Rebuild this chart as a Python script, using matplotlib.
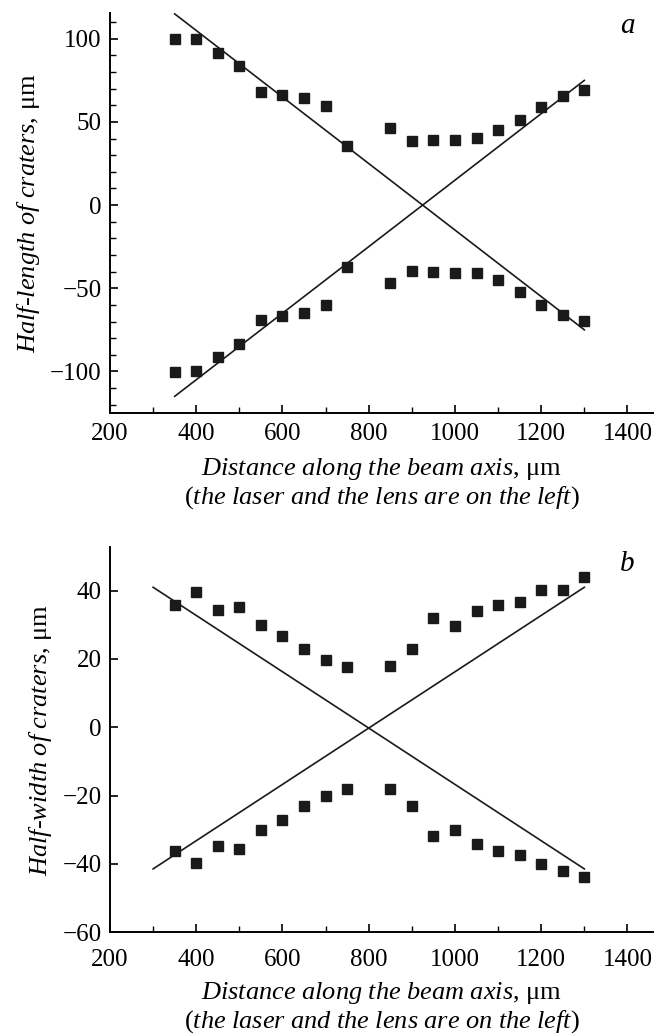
import matplotlib.pyplot as plt
from matplotlib.ticker import MultipleLocator

# ---- data ----
x_pts = [350, 400, 450, 500, 550, 600, 650, 700, 750,
         850, 900, 950, 1000, 1050, 1100, 1150, 1200, 1250, 1300]

len_upper = [100, 100, 91.4, 83.6, 67.8, 66.4, 64.6, 59.4, 35.6,
             46.6, 38.4, 39.4, 39.4, 40.4, 45.4, 51, 59.2, 65.4, 69]
len_lower = [-100.4, -100, -91.4, -83.6, -69.2, -66.6, -65, -60, -37,
             -47, -39.6, -40, -40.6, -41, -45, -52, -60, -66, -69.6]

wid_upper = [35.8, 39.6, 34.3, 35.3, 30, 26.8, 22.9, 19.8, 17.6,
             18, 23, 32, 29.7, 34, 35.7, 36.8, 40.1, 40.1, 43.9]
wid_lower = [-36.2, -39.7, -34.7, -35.7, -30.1, -27.1, -23.2, -20.2, -18.2,
             -18.2, -23.2, -32, -30.1, -34.2, -36.2, -37.3, -40, -42.2, -44]

# fitted straight lines (end points)
len_line_x = [350, 1300]
len_line_down = [115, -75]
len_line_up = [-115, 75]

wid_line_x = [300, 1300]
wid_line_down = [41, -41.5]
wid_line_up = [-41.5, 41]

plt.rcParams['font.family'] = ['Liberation Serif', 'DejaVu Serif']
plt.rcParams['mathtext.fontset'] = 'custom'
plt.rcParams['mathtext.rm'] = 'Liberation Serif'
plt.rcParams['mathtext.it'] = 'Liberation Serif:italic'
plt.rcParams['font.size'] = 18

fig = plt.figure(figsize=(6.61, 10.34), dpi=100)
ax_a = fig.add_axes([0.1664, 0.6006, 0.822, 0.3868])
ax_b = fig.add_axes([0.1664, 0.0986, 0.822, 0.3724])

xlabel = ('$\\mathit{Distance\\ along\\ the\\ beam\\ axis}$, μm\n'
          '($\\mathit{the\\ laser\\ and\\ the\\ lens\\ are\\ on\\ the\\ left}$)')

def style(ax, xpad, lpad):
    for s in ['top', 'right']:
        ax.spines[s].set_visible(False)
    for s in ['left', 'bottom']:
        ax.spines[s].set_linewidth(1.4)
    ax.set_xlim(200, 1460)
    ax.xaxis.set_major_locator(MultipleLocator(200))
    ax.xaxis.set_minor_locator(MultipleLocator(100))
    ax.tick_params(which='major', direction='in', length=6, width=1.2)
    ax.tick_params(which='minor', direction='in', length=4, width=1.0)
    ax.tick_params(axis='x', which='major', pad=xpad)
    ax.tick_params(axis='y', which='major', pad=6)
    ax.set_xlabel(xlabel, fontsize=19, linespacing=1.1, labelpad=lpad)

# ---- panel a ----
ax = ax_a
ax.plot(len_line_x, len_line_down, color='#1a1a1a', lw=1.2)
ax.plot(len_line_x, len_line_up, color='#1a1a1a', lw=1.2)
ax.plot(x_pts, len_upper, 's', color='#1a1a1a', ms=7)
ax.plot(x_pts, len_lower, 's', color='#1a1a1a', ms=7)
style(ax, 7, 8)
ax.set_ylim(-125, 115.5)
ax.yaxis.set_major_locator(MultipleLocator(50))
ax.yaxis.set_minor_locator(MultipleLocator(10))
ax.set_ylabel('$\\mathit{Half\u2010length\\ of\\ craters}$, μm', fontsize=19, labelpad=6)
ax.text(0.965, 1.0, 'a', transform=ax.transAxes, style='italic',
        ha='right', va='top', fontsize=21)

# ---- panel b ----
ax = ax_b
ax.plot(wid_line_x, wid_line_down, color='#1a1a1a', lw=1.2)
ax.plot(wid_line_x, wid_line_up, color='#1a1a1a', lw=1.2)
ax.plot(x_pts, wid_upper, 's', color='#1a1a1a', ms=7)
ax.plot(x_pts, wid_lower, 's', color='#1a1a1a', ms=7)
style(ax, 12, 7)
ax.set_ylim(-60, 52.8)
ax.yaxis.set_major_locator(MultipleLocator(20))
ax.set_ylabel('$\\mathit{Half\u2010width\\ of\\ craters}$, μm', fontsize=19, labelpad=6)
ax.text(0.965, 0.99, 'b', transform=ax.transAxes, style='italic',
        ha='right', va='top', fontsize=21)

fig.savefig('out.png', dpi=100)
